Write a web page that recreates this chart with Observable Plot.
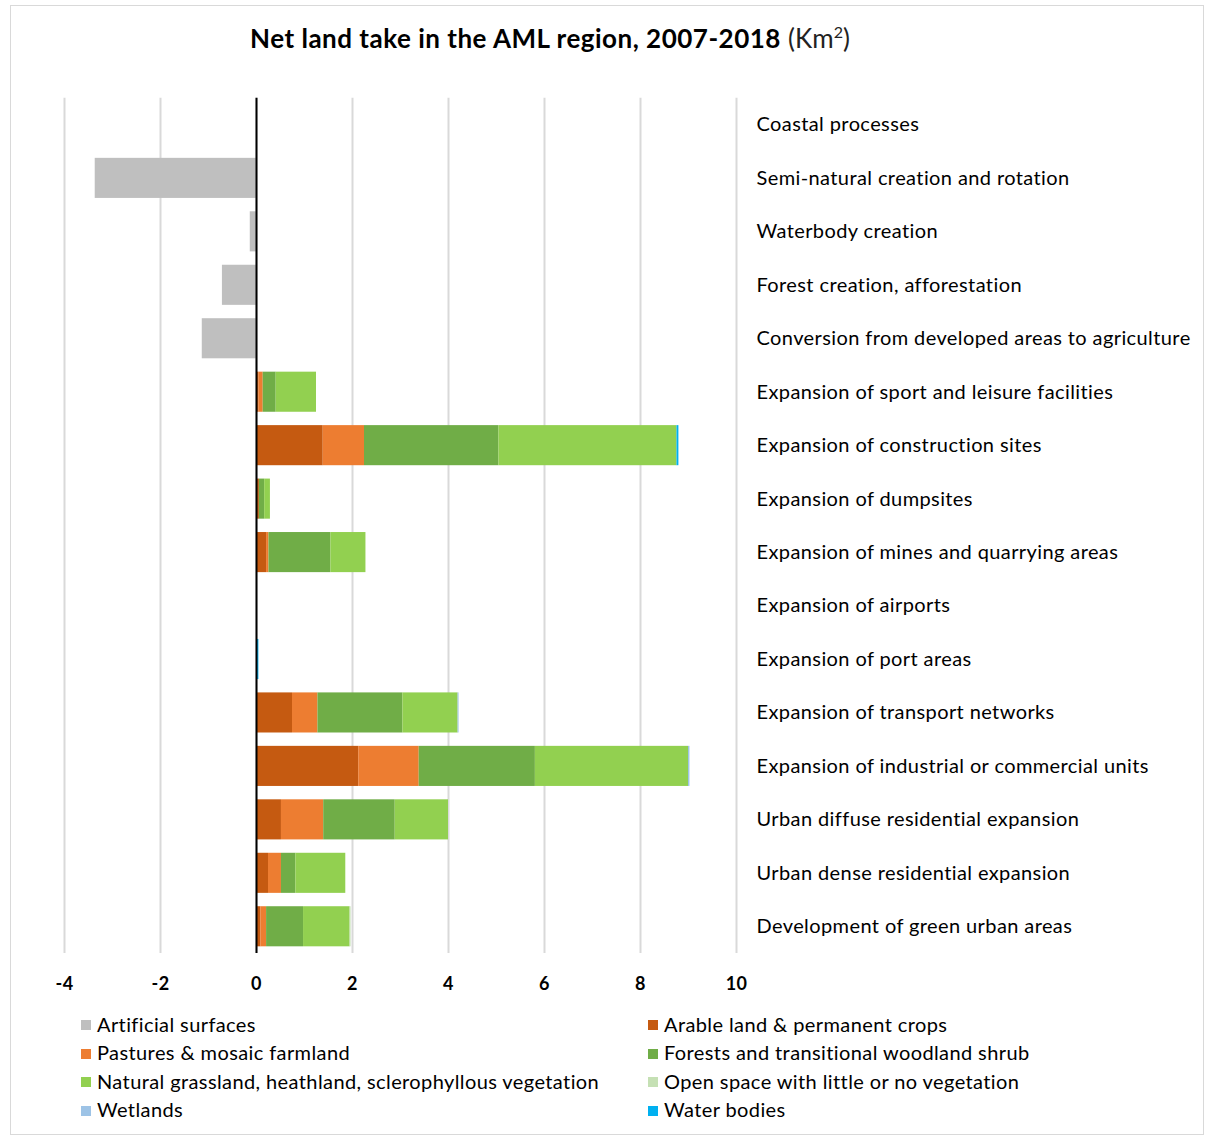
<!DOCTYPE html>
<html>
<head>
<meta charset="utf-8">
<script src="https://cdn.jsdelivr.net/npm/d3@7"></script>
<script src="https://cdn.jsdelivr.net/npm/@observablehq/plot@0.6"></script>
<style>
  html, body { margin: 0; padding: 0; background: #fff; }
  #chart { position: relative; width: 1207px; height: 1138px; font-family: Lato, "Open Sans", sans-serif; color: #000; }
  #frame { position: absolute; left: 10px; top: 5px; width: 1194px; height: 1130px; border: 1px solid #d9d9d9; box-sizing: border-box; }
  #title { position: absolute; left: 0; width: 1100px; top: 22px; text-align: center; font-size: 26px; letter-spacing: 0.5px; }
  #title b { font-weight: 700; }
  #title span { font-weight: 400; color: #222; letter-spacing: 0; }
  #plot { position: absolute; left: 0; top: 70px; }
  #legend { position: absolute; left: 81px; top: 1012px; display: grid; grid-template-columns: 567px 560px; row-gap: 5.5px; font-size: 20px; letter-spacing: 0.4px; }
  .item { display: flex; align-items: center; height: 23px; white-space: nowrap; }
  .sw { width: 10px; height: 10px; margin-right: 6px; margin-top: 3px; flex: none; }
</style>
</head>
<body>
<div id="chart">
  <div id="frame"></div>
  <div id="title"><b>Net land take in the AML region, 2007-2018</b> <span>(Km<sup style="font-size:16px">2</sup>)</span></div>
  <div id="plot"></div>
  <div id="legend"></div>
</div>
<script>
// Land-take processes, top to bottom
const categories = [
  "Coastal processes",
  "Semi-natural creation and rotation",
  "Waterbody creation",
  "Forest creation, afforestation",
  "Conversion from developed areas to agriculture",
  "Expansion of sport and leisure facilities",
  "Expansion of construction sites",
  "Expansion of dumpsites",
  "Expansion of mines and quarrying areas",
  "Expansion of airports",
  "Expansion of port areas",
  "Expansion of transport networks",
  "Expansion of industrial or commercial units",
  "Urban diffuse residential expansion",
  "Urban dense residential expansion",
  "Development of green urban areas"
];

// Land-cover types consumed (stack order)
const seriesNames = [
  "Artificial surfaces",
  "Arable land & permanent crops",
  "Pastures & mosaic farmland",
  "Forests and transitional woodland shrub",
  "Natural grassland, heathland, sclerophyllous vegetation",
  "Open space with little or no vegetation",
  "Wetlands",
  "Water bodies"
];
const seriesColors = ["#bfbfbf", "#c55a11", "#ed7d31", "#70ad47", "#92d050", "#c5e0b4", "#9dc3e6", "#00b0f0"];

// Net area in km², one value per category
const artificial = [0, -3.36, -0.13, -0.71, -1.13, 0, 0, 0, 0, 0, 0, 0, 0, 0, 0, 0];
const arable     = [0, 0, 0, 0, 0, 0.05, 1.39, 0.06, 0.21, 0, 0, 0.75, 2.13, 0.52, 0.25, 0.09];
const pastures   = [0, 0, 0, 0, 0, 0.09, 0.86, 0, 0.05, 0, 0, 0.53, 1.26, 0.88, 0.27, 0.12];
const forests    = [0, 0, 0, 0, 0, 0.27, 2.80, 0.11, 1.29, 0, 0, 1.77, 2.42, 1.49, 0.30, 0.77];
const natural    = [0, 0, 0, 0, 0, 0.84, 3.71, 0.12, 0.73, 0, 0, 1.15, 3.19, 1.11, 1.04, 0.97];
const openSpace  = [0, 0, 0, 0, 0, 0, 0, 0, 0, 0, 0, 0, 0, 0, 0, 0.02];
const wetlands   = [0, 0, 0, 0, 0, 0, 0, 0, 0, 0, 0, 0.02, 0.03, 0, 0, 0];
const waterBodies= [0, 0, 0, 0, 0, 0, 0.04, 0, 0, 0, 0.05, 0, 0, 0, 0, 0];

const xTicks = [-4, -2, 0, 2, 4, 6, 8, 10];

const seriesValues = [artificial, arable, pastures, forests, natural, openSpace, wetlands, waterBodies];
const rows = [];
seriesNames.forEach((s, j) => categories.forEach((c, i) => {
  rows.push({category: c, series: s, value: seriesValues[j][i]});
}));

const chart = Plot.plot({
  width: 1207,
  height: 928,
  marginLeft: 64,
  marginRight: 471,
  marginTop: 27.7,
  marginBottom: 45,
  style: {fontFamily: "Lato, 'Open Sans', sans-serif", fontSize: "20px", letterSpacing: "0.4px", color: "#000", background: "transparent"},
  x: {domain: [-4, 10]},
  y: {domain: categories, paddingInner: 0.25, paddingOuter: 0.125, round: false},
  color: {domain: seriesNames, range: seriesColors},
  marks: [
    Plot.gridX(xTicks, {stroke: "#d9d9d9", strokeOpacity: 1, strokeWidth: 2}),
    Plot.barX(rows, {x: "value", y: "category", fill: "series", order: seriesNames}),
    Plot.ruleX([0], {stroke: "#000", strokeWidth: 2}),
    Plot.axisX(xTicks, {tickSize: 0, tickPadding: 24, fontSize: 18, fontWeight: 700, tickFormat: d => String(d).replace("−", "-"), label: null}),
    Plot.axisY({anchor: "right", tickSize: 0, tickPadding: 20, fontSize: 20, label: null})
  ]
});
document.getElementById("plot").appendChild(chart);

// Legend in two columns, row by row
const legend = d3.select("#legend");
seriesNames.forEach((s, j) => {
  const item = legend.append("div").attr("class", "item");
  item.append("div").attr("class", "sw").style("background", seriesColors[j]);
  item.append("span").text(s);
});
</script>
</body>
</html>
